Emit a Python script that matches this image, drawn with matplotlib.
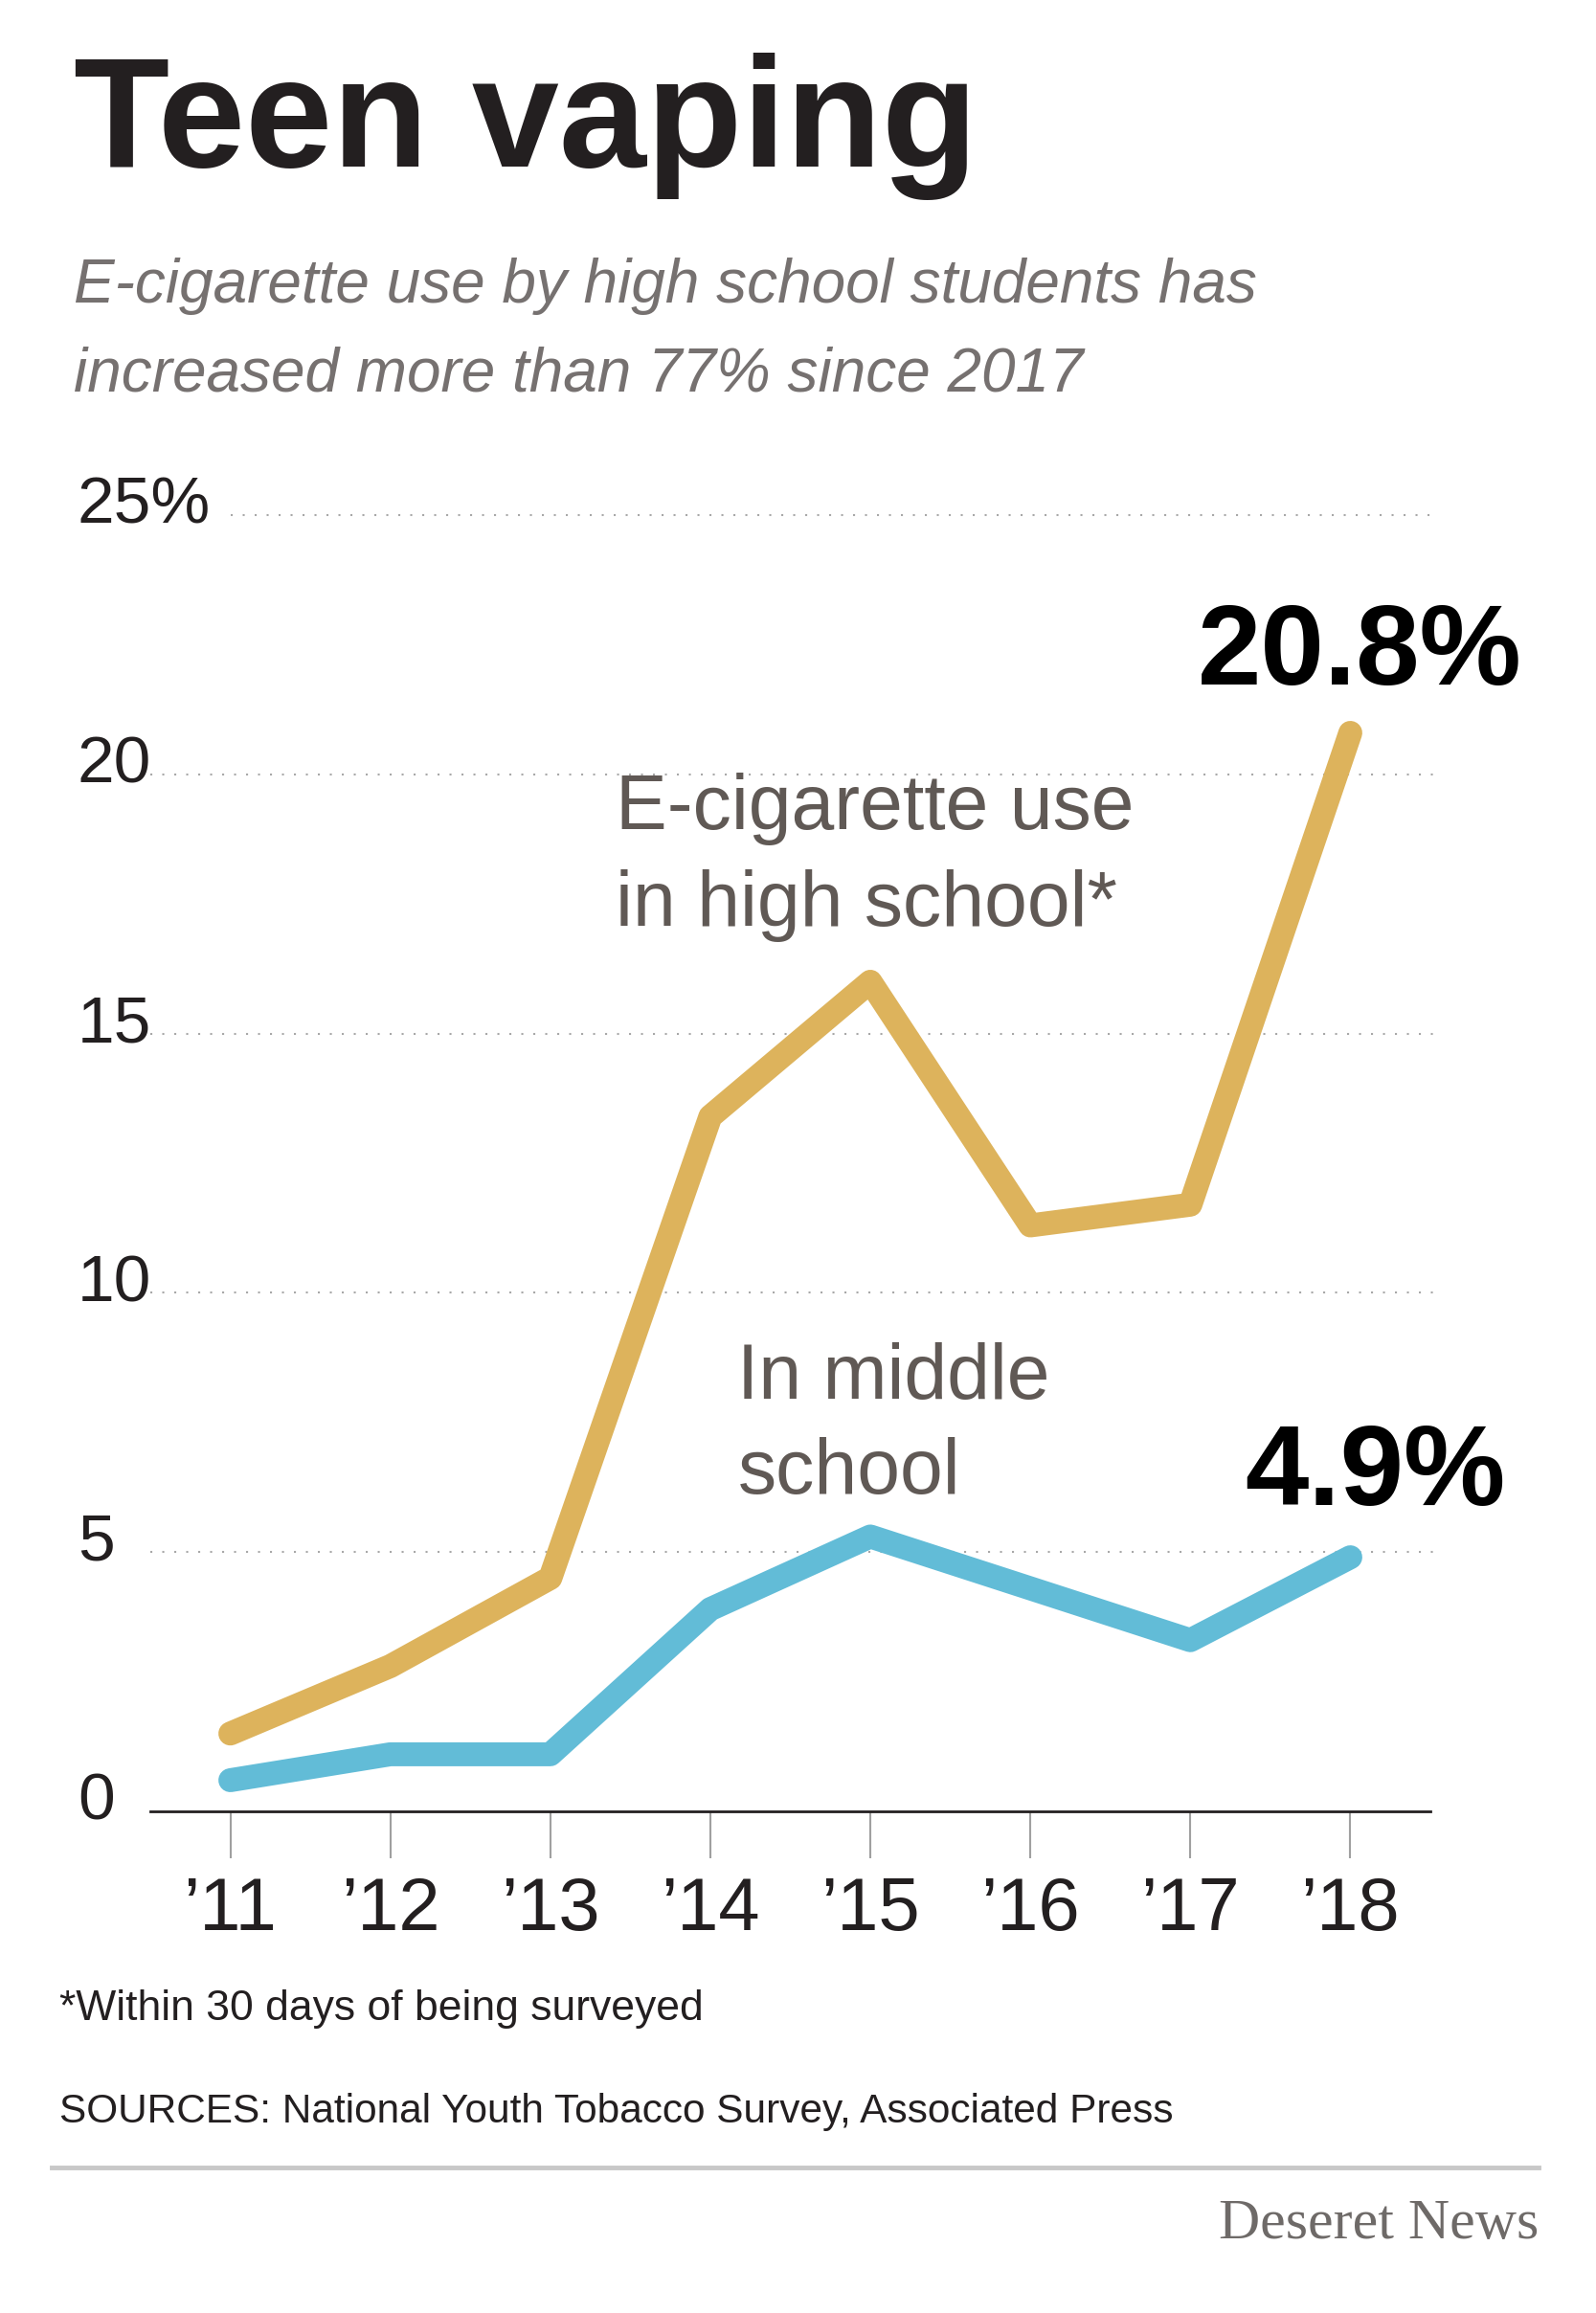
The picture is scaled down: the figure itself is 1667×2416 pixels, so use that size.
import matplotlib.pyplot as plt
from matplotlib.lines import Line2D

# survey data (percent using e-cigarettes in last 30 days)
years = ["\u201911", "\u201912", "\u201913", "\u201914", "\u201915", "\u201916", "\u201917", "\u201918"]
high_school = [1.5, 2.8, 4.5, 13.4, 16.0, 11.3, 11.7, 20.8]
middle_school = [0.6, 1.1, 1.1, 3.9, 5.3, 4.3, 3.3, 4.9]
y_ticks = [0, 5, 10, 15, 20, 25]
y_labels = ["0", "5", "10", "15", "20", "25%"]

GOLD = "#ddb35c"
BLUE = "#62bcd7"
DARK = "#231f20"
GRAY_TXT = "#605955"
SANS = ["Liberation Sans", "DejaVu Sans"]

fig = plt.figure(figsize=(16.67, 24.16), dpi=100)
fig.patch.set_facecolor("white")
ax = fig.add_axes([0.0942, 0.2169, 0.802, 0.5604])

x = list(range(len(years)))
ax.set_xlim(-0.5, 7.5)
ax.set_ylim(0, 25)

# dotted gridlines
for v in y_ticks[1:]:
    start = 0.0 if v == 25 else -0.5
    ax.plot([start, 7.55], [v, v], color="#a8a8a8", lw=1.5,
            linestyle=(0, (1, 5)), clip_on=False, zorder=1)

ax.plot(x, high_school, color=GOLD, lw=18, solid_capstyle="round",
        solid_joinstyle="round", clip_on=False, zorder=3)
ax.plot(x, middle_school, color=BLUE, lw=18, solid_capstyle="round",
        solid_joinstyle="round", clip_on=False, zorder=3)

for s in ["top", "right", "left"]:
    ax.spines[s].set_visible(False)
ax.spines["bottom"].set_color(DARK)
ax.spines["bottom"].set_linewidth(2)
ax.set_yticks([])
ax.set_xticks(x, years)
ax.tick_params(axis="x", length=35, width=1.5, color="#a0a0a0", pad=13,
               labelsize=56, labelcolor=DARK)
for lab in ax.get_xticklabels():
    lab.set_family(SANS)

# y labels, left aligned at the figure edge
ytrans = ax.get_yaxis_transform()
for v, lab in zip(y_ticks, y_labels):
    ax.text(-0.057, v + 0.17, lab, transform=ytrans, ha="left", va="center",
            fontsize=50, color=DARK, family=SANS)

# series annotations
ax.text(2.41, 18.4, "E-cigarette use\nin high school*", ha="left", va="center",
        fontsize=58, color=GRAY_TXT, family=SANS, linespacing=1.42)
ax.text(3.17, 7.43, "In middle\nschool", ha="left", va="center",
        fontsize=58, color=GRAY_TXT, family=SANS, linespacing=1.38)
ax.text(8.07, 22.3, "20.8%", ha="right", va="center", fontsize=86,
        fontweight="bold", color="black", family=SANS)
ax.text(7.97, 6.48, "4.9%", ha="right", va="center", fontsize=86,
        fontweight="bold", color="black", family=SANS)

# header
fig.text(0.046, 0.928, "Teen vaping", ha="left", va="baseline", fontsize=118,
         fontweight="bold", color=DARK, family=SANS)
fig.text(0.046, 0.869, "E-cigarette use by high school students has",
         ha="left", va="baseline", fontsize=46, style="italic",
         color="#767170", family=SANS)
fig.text(0.046, 0.831, "increased more than 77% since 2017",
         ha="left", va="baseline", fontsize=46, style="italic",
         color="#767170", family=SANS)

# footer
fig.text(0.037, 0.1316, "*Within 30 days of being surveyed", ha="left",
         va="center", fontsize=32, color=DARK, family=SANS)
fig.text(0.037, 0.0869, "SOURCES: National Youth Tobacco Survey, Associated Press",
         ha="left", va="center", fontsize=30.5, color=DARK, family=SANS)
fig.add_artist(Line2D([0.0324, 0.964], [0.0629, 0.0629], color="#c8c8c8", lw=3.5,
                      transform=fig.transFigure))
fig.text(0.964, 0.0381, "Deseret News", ha="right", va="center", fontsize=43,
         color="#6e6a68", family="Liberation Serif")

fig.savefig("out.png", dpi=100, facecolor="white")
